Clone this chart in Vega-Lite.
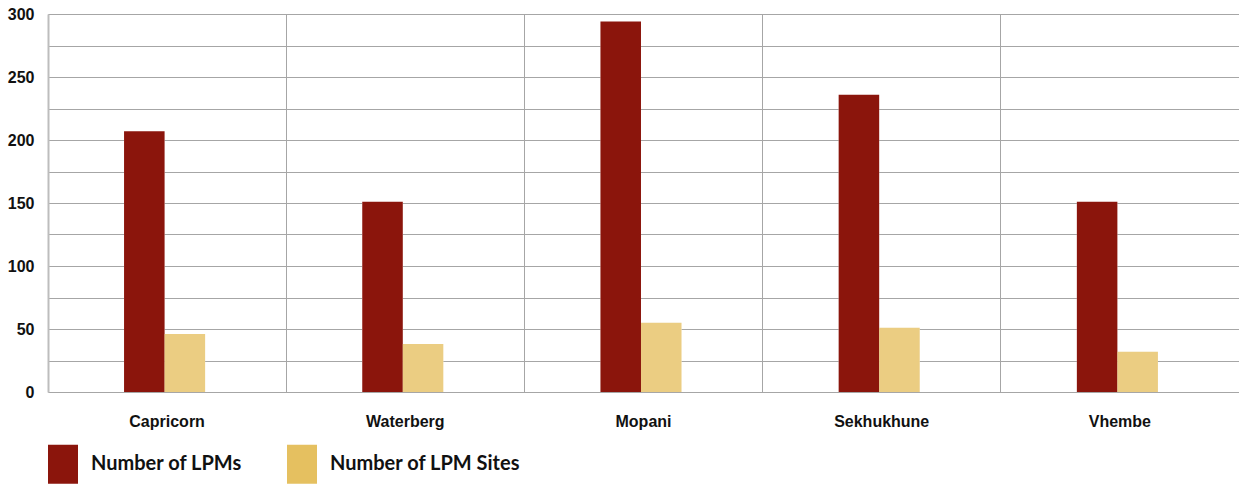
{
  "$schema": "https://vega.github.io/schema/vega-lite/v6.json",
  "width": 1191,
  "height": 378,
  "autosize": {"type": "none"},
  "padding": {"left": 48, "top": 14, "right": 0, "bottom": 92},
  "background": "white",
  "data": {
    "values": [
      {"district": "Capricorn", "series": "Number of LPMs", "value": 207},
      {"district": "Capricorn", "series": "Number of LPM Sites", "value": 46},
      {"district": "Waterberg", "series": "Number of LPMs", "value": 151},
      {"district": "Waterberg", "series": "Number of LPM Sites", "value": 38},
      {"district": "Mopani", "series": "Number of LPMs", "value": 294},
      {"district": "Mopani", "series": "Number of LPM Sites", "value": 55},
      {"district": "Sekhukhune", "series": "Number of LPMs", "value": 236},
      {"district": "Sekhukhune", "series": "Number of LPM Sites", "value": 51},
      {"district": "Vhembe", "series": "Number of LPMs", "value": 151},
      {"district": "Vhembe", "series": "Number of LPM Sites", "value": 32}
    ]
  },
  "encoding": {
    "x": {
      "field": "district",
      "type": "nominal",
      "sort": ["Capricorn", "Waterberg", "Mopani", "Sekhukhune", "Vhembe"],
      "scale": {"paddingInner": 0, "paddingOuter": 0},
      "axis": {
        "title": null,
        "bandPosition": 0,
        "grid": true,
        "gridColor": "#a6a6a6",
        "gridWidth": 1,
        "domain": false,
        "ticks": false,
        "labelAngle": 0,
        "labelPadding": 21,
        "labelFont": "Liberation Sans, Arial, sans-serif",
        "labelFontWeight": "bold",
        "labelFontSize": 16,
        "labelColor": "#111111"
      }
    },
    "xOffset": {
      "field": "series",
      "type": "nominal",
      "scale": {
        "domain": ["lead", "Number of LPMs", "Number of LPM Sites", "trail"],
        "paddingInner": 0,
        "paddingOuter": 0.938,
        "align": 0.467
      }
    },
    "y": {
      "field": "value",
      "type": "quantitative",
      "scale": {"domain": [0, 300], "nice": false},
      "axis": {
        "title": null,
        "values": [0, 25, 50, 75, 100, 125, 150, 175, 200, 225, 250, 275, 300],
        "labelExpr": "datum.value % 50 === 0 ? datum.label : ''",
        "grid": true,
        "gridColor": "#a6a6a6",
        "gridWidth": 1,
        "domain": true,
        "domainColor": "#bdbdbd",
        "domainWidth": 2,
        "ticks": false,
        "labelPadding": 14,
        "labelFont": "Liberation Sans, Arial, sans-serif",
        "labelFontWeight": "bold",
        "labelFontSize": 16,
        "labelColor": "#111111"
      }
    }
  },
  "layer": [
    {
      "mark": {"type": "bar", "color": "white"}
    },
    {
      "mark": {"type": "bar"},
      "encoding": {
        "opacity": {
          "condition": {"test": "datum.series === 'Number of LPM Sites'", "value": 0.79},
          "value": 1
        },
        "color": {
          "field": "series",
          "type": "nominal",
          "scale": {
            "domain": ["Number of LPMs", "Number of LPM Sites"],
            "range": ["#8b150c", "#e5c060"]
          },
          "legend": {
            "title": null,
            "orient": "none",
            "direction": "horizontal",
            "legendX": 0,
            "legendY": 435,
            "padding": 0,
            "symbolType": "M-1,-1.3H1V1.3H-1Z",
            "symbolSize": 900,
            "symbolStrokeWidth": 0,
            "symbolOpacity": 1,
            "labelOffset": 13,
            "columnPadding": 44,
            "labelFont": "Lato, sans-serif",
            "labelFontWeight": "bold",
            "labelFontSize": 20,
            "labelColor": "#111111",
            "labelLimit": 400
          }
        }
      }
    }
  ],
  "config": {
    "view": {"stroke": null}
  }
}
